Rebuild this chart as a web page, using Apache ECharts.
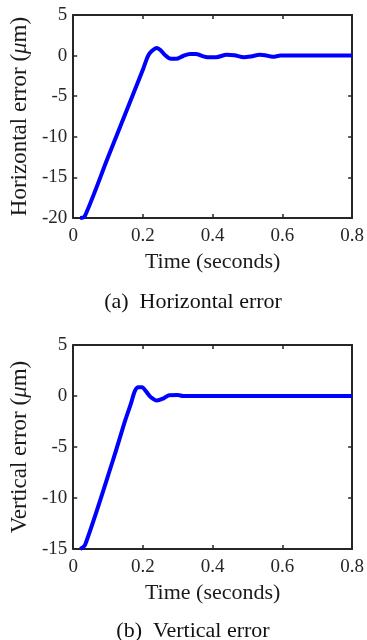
<!DOCTYPE html>
<html><head><meta charset="utf-8">
<script src="https://cdn.jsdelivr.net/npm/echarts@6/dist/echarts.min.js"></script>
<style>html,body{margin:0;padding:0;background:#fff}#c{width:367px;height:640px}</style>
</head><body><div id="c"></div>
<script>
// Data
const xTicks = [0, 0.2, 0.4, 0.6, 0.8];
const hTicks = [-20, -15, -10, -5, 0, 5];
const vTicks = [-15, -10, -5, 0, 5];
const hTime = [0.02,0.033,0.1,0.2,0.215,0.226,0.24,0.25,0.265,0.28,0.295,0.315,0.335,0.352,0.37,0.385,0.41,0.44,0.462,0.49,0.51,0.535,0.55,0.572,0.595,0.8];
const hErr  = [-20,-19.8,-12.5,-1.7,0,0.6,0.95,0.7,0,-0.4,-0.4,-0.05,0.2,0.2,-0.05,-0.2,-0.2,0.1,0.05,-0.2,-0.1,0.1,0.05,-0.15,0,0];
const vTime = [0.02,0.034,0.114,0.15,0.165,0.177,0.187,0.197,0.21,0.222,0.24,0.258,0.275,0.3,0.315,0.8];
const vErr  = [-15,-14.6,-6.3,-2.3,-0.8,0.5,0.85,0.85,0.4,-0.1,-0.45,-0.25,0.08,0.1,0,0];
const captions = ['(a)  Horizontal error', '(b)  Vertical error'];

const FONT = 'Liberation Serif';
const AX = '#262626';
const grids = [
  {left: 68, top: 15, width: 285, height: 203},
  {left: 68, top: 345, width: 285, height: 204}
];
function xAx(gi, pos, labels) {
  return {
    type: 'value', gridIndex: gi, position: pos, min: 0, max: 0.8, interval: 0.2,
    axisLine: {show: true, onZero: false, lineStyle: {color: AX, width: 2}},
    axisTick: {show: true, inside: true, length: 4, lineStyle: {color: AX, width: 1.5}},
    axisLabel: {show: labels, color: AX, fontFamily: FONT, fontSize: 19, margin: 9,
      formatter: v => String(+v.toFixed(1))},
    splitLine: {show: false},
    name: labels ? 'Time (seconds)' : '', nameLocation: 'middle', nameGap: 33,
    nameTextStyle: {color: '#1a1a1a', fontFamily: FONT, fontSize: 22}
  };
}
function yAx(gi, pos, labels, mn, nm) {
  return {
    type: 'value', gridIndex: gi, position: pos, min: mn, max: 5, interval: 5,
    axisLine: {show: true, onZero: false, lineStyle: {color: AX, width: 2}},
    axisTick: {show: true, inside: true, length: 4, lineStyle: {color: AX, width: 1.5}},
    axisLabel: {show: labels, color: AX, fontFamily: FONT, fontSize: 19, margin: 6},
    splitLine: {show: false},
    name: labels ? '{n|' + nm + ' (}{m|μ}{n|m)}' : '', nameLocation: 'middle', nameGap: 37,
    nameTextStyle: {rich: {
      n: {color: '#1a1a1a', fontFamily: FONT, fontSize: 23},
      m: {color: '#1a1a1a', fontFamily: FONT, fontSize: 23, fontStyle: 'italic'}
    }}
  };
}
const chart = echarts.init(document.getElementById('c'), null, {renderer: 'canvas'});
chart.setOption({
  animation: false,
  grid: grids,
  xAxis: [xAx(0, 'bottom', true), xAx(0, 'top', false), xAx(1, 'bottom', true), xAx(1, 'top', false)],
  yAxis: [yAx(0, 'left', true, -20, 'Horizontal error'), yAx(0, 'right', false, -20, ''),
          yAx(1, 'left', true, -15, 'Vertical error'), yAx(1, 'right', false, -15, '')],
  series: [
    {type: 'line', xAxisIndex: 0, yAxisIndex: 0, data: hTime.map((t, i) => [t, hErr[i]]),
     showSymbol: false, smooth: 0.3, clip: false, lineStyle: {color: '#0000ff', width: 4}},
    {type: 'line', xAxisIndex: 2, yAxisIndex: 2, data: vTime.map((t, i) => [t, vErr[i]]),
     showSymbol: false, smooth: 0.3, clip: false, lineStyle: {color: '#0000ff', width: 4}}
  ],
  graphic: [
    {type: 'text', x: 193, y: 302, style: {text: captions[0], font: '22px "Liberation Serif"', fill: '#111', align: 'center', verticalAlign: 'middle'}},
    {type: 'text', x: 193, y: 631, style: {text: captions[1], font: '22px "Liberation Serif"', fill: '#111', align: 'center', verticalAlign: 'middle'}}
  ]
});
</script></body></html>
